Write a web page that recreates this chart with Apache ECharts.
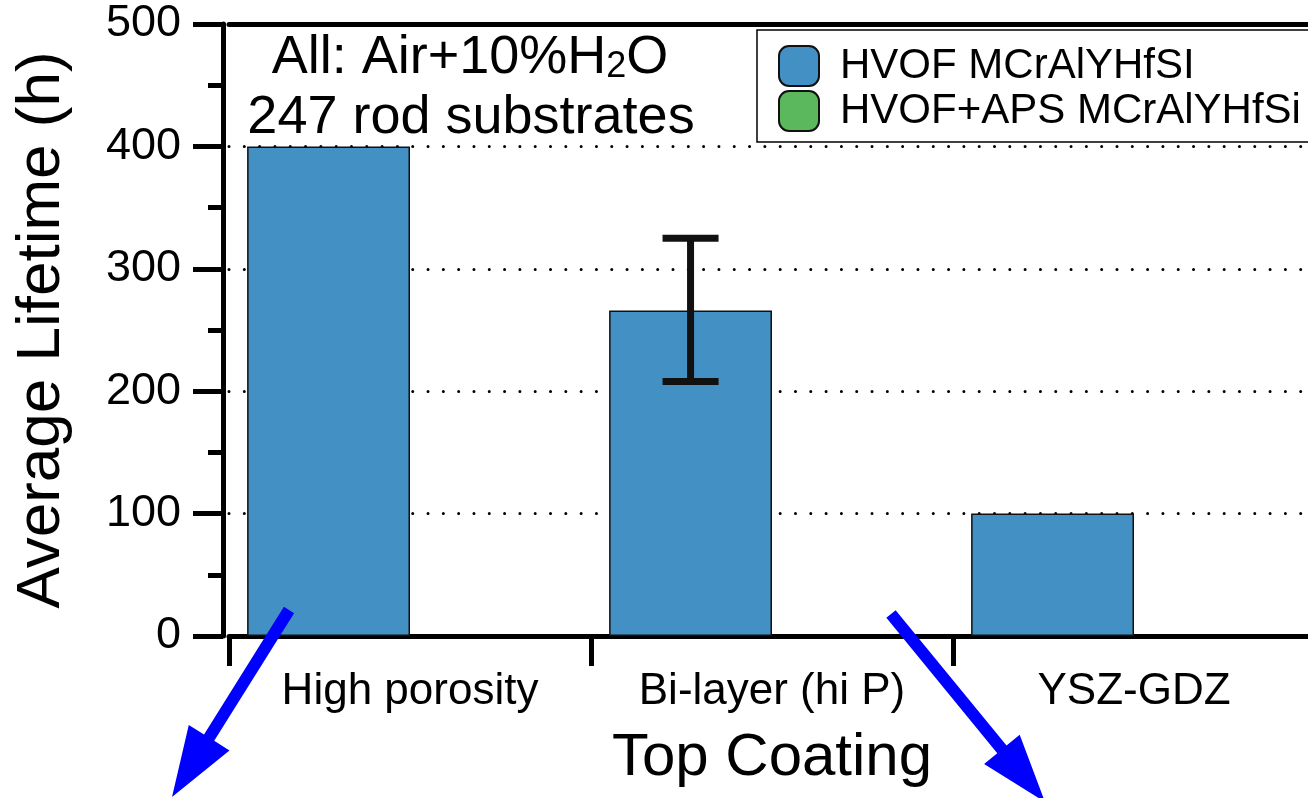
<!DOCTYPE html>
<html>
<head>
<meta charset="utf-8">
<script src="https://cdn.jsdelivr.net/npm/echarts@6/dist/echarts.min.js"></script>
<style>
  html, body { margin: 0; padding: 0; background: #fff; }
  #chart { width: 1308px; height: 798px; }
</style>
</head>
<body>
<div id="chart"></div>
<script>
// categories + values
const categories = ["High porosity", "Bi-layer (hi P)", "YSZ-GDZ"];
const hvofValues = [400, 266, 100];
const hvofApsValues = ["-", "-", "-"];
const errLow = [null, 208, null];
const errHigh = [null, 325, null];
const seriesNames = ["HVOF MCrAlYHfSI", "HVOF+APS MCrAlYHfSi"];

const FONT = "Liberation Sans";

// error bar points for the custom series
const errData = [];
categories.forEach((c, i) => {
  if (errLow[i] != null) errData.push([i, errLow[i], errHigh[i]]);
});

// blue annotation arrow as one polygon
function arrow(x1, y1, x2, y2, shaft, headLen, headW) {
  const dx = x2 - x1, dy = y2 - y1;
  const len = Math.sqrt(dx * dx + dy * dy);
  const ux = dx / len, uy = dy / len;
  const px = -uy, py = ux;
  const bx = x2 - ux * headLen, by = y2 - uy * headLen;
  const s = shaft / 2, h = headW / 2;
  return [
    [x1 + px * s, y1 + py * s],
    [bx + px * s, by + py * s],
    [bx + px * h, by + py * h],
    [x2, y2],
    [bx - px * h, by - py * h],
    [bx - px * s, by - py * s],
    [x1 - px * s, y1 - py * s]
  ];
}

const chart = echarts.init(document.getElementById("chart"));

const option = {
  animation: false,
  backgroundColor: "#fff",
  textStyle: { fontFamily: FONT, color: "#000" },
  grid: {
    left: 229, width: 1086, top: 24, bottom: 162,
    containLabel: false, outerBoundsMode: "none"
  },
  legend: {
    data: seriesNames,
    orient: "vertical",
    left: 757,
    top: 30,
    padding: [15, 40, 10, 21],
    itemGap: 3,
    itemWidth: 40,
    itemHeight: 40,
    icon: "roundRect",
    borderColor: "#000",
    borderWidth: 1.5,
    backgroundColor: "#fff",
    textStyle: { fontSize: 42, color: "#000", fontFamily: FONT, padding: [0, 0, 0, 16] }
  },
  xAxis: [
    {
      type: "category",
      data: categories,
      axisLine: { lineStyle: { color: "#000", width: 5 } },
      axisTick: { show: true, length: 30, lineStyle: { color: "#000", width: 5 } },
      axisLabel: { fontSize: 44, color: "#000", margin: 34 },
      name: "Top Coating",
      nameLocation: "middle",
      nameGap: 92,
      nameTextStyle: { fontSize: 60, color: "#000" }
    },
    {
      // top frame line
      type: "category",
      position: "top",
      data: categories,
      axisLine: { lineStyle: { color: "#000", width: 5 } },
      axisTick: { show: false },
      axisLabel: { show: false }
    }
  ],
  yAxis: {
    type: "value",
    min: 0,
    max: 500,
    interval: 100,
    offset: 6,
    axisLine: { show: true, lineStyle: { color: "#000", width: 5 } },
    axisTick: { show: true, length: 30, lineStyle: { color: "#000", width: 5 } },
    minorTick: { show: true, splitNumber: 2, length: 15, lineStyle: { color: "#000", width: 5 } },
    axisLabel: { fontSize: 45, color: "#000", margin: 42 },
    splitLine: {
      show: true,
      lineStyle: { color: "#000", width: 3, type: [0.01, 15.3], cap: "round" }
    },
    name: "Average Lifetime (h)",
    nameLocation: "middle",
    nameGap: 150,
    nameTextStyle: { fontSize: 62, color: "#000" }
  },
  series: [
    {
      name: seriesNames[0],
      type: "bar",
      data: hvofValues,
      barGap: "0%",
      barCategoryGap: "10%",
      itemStyle: { color: "#4390c4", borderColor: "#111", borderWidth: 1.5 }
    },
    {
      name: seriesNames[1],
      type: "bar",
      data: hvofApsValues,
      itemStyle: { color: "#5cb85c", borderColor: "#111", borderWidth: 1.5 }
    },
    {
      // error bar on the first series
      type: "custom",
      data: errData,
      encode: { x: 0, y: [1, 2] },
      z: 5,
      renderItem: function (params, api) {
        const lo = api.coord([api.value(0), api.value(1)]);
        const hi = api.coord([api.value(0), api.value(2)]);
        const band = api.size([1, 0])[0];
        const x = lo[0] - band * 0.9 / 4;
        const cap = 28;
        const st = { stroke: "#111", lineWidth: 7 };
        return {
          type: "group",
          children: [
            { type: "line", shape: { x1: x, y1: hi[1], x2: x, y2: lo[1] }, style: st },
            { type: "line", shape: { x1: x - cap, y1: hi[1], x2: x + cap, y2: hi[1] }, style: st },
            { type: "line", shape: { x1: x - cap, y1: lo[1], x2: x + cap, y2: lo[1] }, style: st }
          ]
        };
      }
    }
  ],
  graphic: [
    {
      type: "text",
      x: 470,
      y: 55,
      z: 10,
      style: {
        text: "{a|All: Air+10%H}{s|2}{a|O}",
        align: "center",
        verticalAlign: "middle",
        rich: {
          a: { fontSize: 54, fontFamily: FONT, fill: "#000", lineHeight: 60, verticalAlign: "bottom" },
          s: { fontSize: 36, fontFamily: FONT, fill: "#000", lineHeight: 32, verticalAlign: "bottom" }
        }
      }
    },
    {
      type: "text",
      x: 471,
      y: 118,
      z: 10,
      style: {
        text: "247 rod substrates",
        fontSize: 54,
        fontFamily: FONT,
        fill: "#000",
        align: "center",
        verticalAlign: "middle"
      }
    },
    {
      type: "polygon",
      z: 20,
      shape: { points: arrow(289, 610, 172, 797, 12, 70, 48) },
      style: { fill: "#0000ff" }
    },
    {
      type: "polygon",
      z: 20,
      shape: { points: arrow(891, 614, 1045, 802, 12, 68, 46) },
      style: { fill: "#0000ff" }
    }
  ]
};

chart.setOption(option);
</script>
</body>
</html>
